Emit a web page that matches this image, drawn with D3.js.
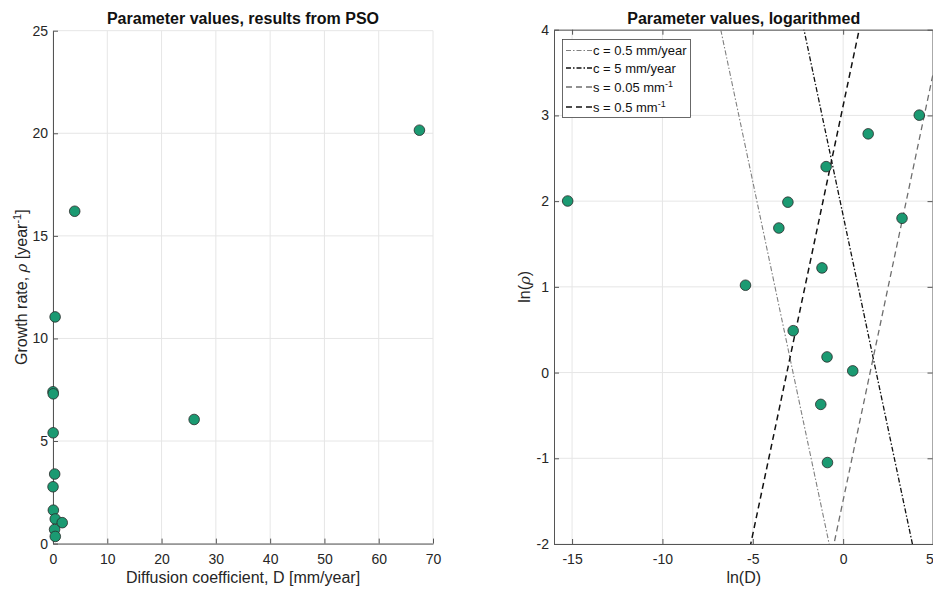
<!DOCTYPE html>
<html>
<head>
<meta charset="utf-8">
<script src="https://cdn.jsdelivr.net/npm/d3@7"></script>
<style>
  html, body { margin: 0; padding: 0; background: #fff; }
  svg { display: block; font-family: "Liberation Sans", Arial, Helvetica, sans-serif; }
  .tick text { fill: #262626; font-size: 14px; }
</style>
</head>
<body>
<svg id="chart" width="933" height="590"></svg>
<script>
// PSO parameter estimates per patient: diffusion coefficient D [mm/year], growth rate rho [1/year]
const diffusion = [2.4e-7, 0.0045, 0.0285, 0.047, 0.39, 0.31, 4.0, 26.0, 67.5, 0.063, 0.41, 1.70, 0.29, 0.42];
const growth    = [7.40,   2.77,   5.40,   7.30,  11.05, 3.39, 16.2, 6.05, 20.15, 1.63,  1.20, 1.02, 0.69, 0.35];

// Reference curves in the log plane
const speedValues = [0.5, 5];        // wave speed c [mm/year], c = 2*sqrt(D*rho)
const slopeValues = [0.05, 0.5];     // profile steepness s [1/mm]
const slopeOffset = 4.5;             // ln-offset of the s-lines used in the model units

const leftXTicks  = [0, 10, 20, 30, 40, 50, 60, 70];
const leftYTicks  = [0, 5, 10, 15, 20, 25];
const rightXTicks = [-15, -10, -5, 0, 5];
const rightYTicks = [-2, -1, 0, 1, 2, 3, 4];

const svg = d3.select("#chart");
const axisColor = "#555";
const gridColor = "#e6e6e6";
const markFill = "#1b9a72";
const markStroke = "#2a2a2a";
const plainFmt = d => String(d);

// ---------- Left panel: raw values ----------
const xL = d3.scaleLinear([0, 70], [53, 433]);
const yL = d3.scaleLinear([0, 25], [543.6, 30.7]);
const gL = svg.append("g");

gL.append("g").selectAll("line").data(leftXTicks).join("line")
  .attr("x1", d => xL(d)).attr("x2", d => xL(d))
  .attr("y1", yL(0)).attr("y2", yL(25))
  .attr("stroke", gridColor);
gL.append("g").selectAll("line").data(leftYTicks).join("line")
  .attr("x1", xL(0)).attr("x2", xL(70))
  .attr("y1", d => yL(d)).attr("y2", d => yL(d))
  .attr("stroke", gridColor);

const axLx = gL.append("g").attr("transform", `translate(0,${yL(0)})`)
  .call(d3.axisBottom(xL).tickValues(leftXTicks).tickFormat(plainFmt).tickSize(-5).tickSizeOuter(0).tickPadding(10));
const axLy = gL.append("g").attr("transform", `translate(${xL(0)},0)`)
  .call(d3.axisLeft(yL).tickValues(leftYTicks).tickFormat(plainFmt).tickSize(-5).tickSizeOuter(0).tickPadding(5));
[axLx, axLy].forEach(a => {
  a.select(".domain").attr("stroke", axisColor);
  a.selectAll(".tick line").attr("stroke", axisColor);
});

gL.append("g").selectAll("circle").data(diffusion.map((d, i) => [d, growth[i]])).join("circle")
  .attr("cx", d => xL(d[0])).attr("cy", d => yL(d[1])).attr("r", 5.3)
  .attr("fill", markFill).attr("stroke", markStroke).attr("stroke-width", 0.8);

gL.append("text").attr("x", (xL(0) + xL(70)) / 2).attr("y", 24)
  .attr("text-anchor", "middle").attr("font-size", 16).attr("font-weight", "bold").attr("fill", "#111")
  .text("Parameter values, results from PSO");
gL.append("text").attr("x", (xL(0) + xL(70)) / 2).attr("y", 583)
  .attr("text-anchor", "middle").attr("font-size", 16).attr("fill", "#262626")
  .text("Diffusion coefficient, D [mm/year]");
const ylabL = gL.append("text")
  .attr("transform", `translate(27,${(yL(0) + yL(25)) / 2}) rotate(-90)`)
  .attr("text-anchor", "middle").attr("font-size", 16).attr("fill", "#262626");
ylabL.append("tspan").text("Growth rate, ");
ylabL.append("tspan").attr("font-style", "italic").attr("font-family", "DejaVu Serif, serif").attr("font-size", 15).text("ρ");
ylabL.append("tspan").text(" [year");
ylabL.append("tspan").attr("dy", -6).attr("font-size", 11).text("-1");
ylabL.append("tspan").attr("dy", 6).text("]");

// ---------- Right panel: logarithms ----------
const xR = d3.scaleLinear([-16, 5], [554, 933.5]);
const yR = d3.scaleLinear([-2, 4], [544, 29.7]);
const gR = svg.append("g");

gR.append("defs").append("clipPath").attr("id", "clipR").append("rect")
  .attr("x", xR(-16)).attr("y", yR(4)).attr("width", xR(5) - xR(-16)).attr("height", yR(-2) - yR(4));

gR.append("g").selectAll("line").data(rightXTicks).join("line")
  .attr("x1", d => xR(d)).attr("x2", d => xR(d))
  .attr("y1", yR(-2)).attr("y2", yR(4)).attr("stroke", gridColor);
gR.append("g").selectAll("line").data(rightYTicks).join("line")
  .attr("x1", xR(-16)).attr("x2", xR(5))
  .attr("y1", d => yR(d)).attr("y2", d => yR(d)).attr("stroke", gridColor);

const axRx = gR.append("g").attr("transform", `translate(0,${yR(-2)})`)
  .call(d3.axisBottom(xR).tickValues(rightXTicks).tickFormat(plainFmt).tickSize(-5).tickSizeOuter(0).tickPadding(10));
// the last label sits at the window edge; keep it fully on the canvas
axRx.selectAll(".tick text").filter(d => d === 5).attr("dx", -4);
const axes = [
  axRx,
  gR.append("g").attr("transform", `translate(0,${yR(4)})`)
    .call(d3.axisTop(xR).tickValues(rightXTicks).tickSize(-5).tickSizeOuter(0).tickFormat("")),
  gR.append("g").attr("transform", `translate(${xR(-16)},0)`)
    .call(d3.axisLeft(yR).tickValues(rightYTicks).tickFormat(plainFmt).tickSize(-5).tickSizeOuter(0).tickPadding(5)),
  gR.append("g").attr("transform", `translate(${xR(5) - 1},0)`)
    .call(d3.axisRight(yR).tickValues(rightYTicks).tickSize(-5).tickSizeOuter(0).tickFormat(""))
];
axes.forEach(a => {
  a.select(".domain").attr("stroke", axisColor);
  a.selectAll(".tick line").attr("stroke", axisColor);
});

// Reference lines: ln(rho) as a function of ln(D)
const refLines = [
  { label: ["c = 0.5 mm/year"], f: x => 2 * Math.log(speedValues[0] / 2) - x, color: "#808080", dash: "5,2,1.5,2", w: 1.1 },
  { label: ["c = 5 mm/year"],   f: x => 2 * Math.log(speedValues[1] / 2) - x, color: "#111",    dash: "5,2,1.5,2", w: 1.3 },
  { label: ["s = 0.05 mm", "-1"], f: x => 2 * Math.log(slopeValues[0]) + slopeOffset + x, color: "#6e6e6e", dash: "6,4", w: 1.3 },
  { label: ["s = 0.5 mm", "-1"],  f: x => 2 * Math.log(slopeValues[1]) + slopeOffset + x, color: "#111",    dash: "6,4", w: 1.5 }
];
const lineGen = d3.line().x(d => xR(d[0])).y(d => yR(d[1]));
gR.append("g").attr("clip-path", "url(#clipR)").selectAll("path").data(refLines).join("path")
  .attr("d", r => lineGen([[-16, r.f(-16)], [5, r.f(5)]]))
  .attr("fill", "none").attr("stroke", r => r.color).attr("stroke-width", r => r.w)
  .attr("stroke-dasharray", r => r.dash);

gR.append("g").attr("clip-path", "url(#clipR)").selectAll("circle")
  .data(diffusion.map((d, i) => [Math.log(d), Math.log(growth[i])])).join("circle")
  .attr("cx", d => xR(d[0])).attr("cy", d => yR(d[1])).attr("r", 5.3)
  .attr("fill", markFill).attr("stroke", markStroke).attr("stroke-width", 0.8);

// Legend
const lg = gR.append("g");
lg.append("rect").attr("x", 562.5).attr("y", 39.5).attr("width", 128).attr("height", 78)
  .attr("fill", "#fff").attr("stroke", "#444").attr("stroke-width", 0.8);
const rowY = [50.5, 68, 87, 107];
refLines.forEach((r, i) => {
  const y = rowY[i];
  lg.append("line").attr("x1", 566).attr("x2", 592).attr("y1", y).attr("y2", y)
    .attr("stroke", r.color).attr("stroke-width", r.w).attr("stroke-dasharray", r.dash);
  const t = lg.append("text").attr("x", 593).attr("y", y + 4.5).attr("font-size", 13).attr("fill", "#111");
  t.append("tspan").text(r.label[0]);
  if (r.label[1]) t.append("tspan").attr("dy", -5).attr("font-size", 9).text(r.label[1]);
});

gR.append("text").attr("x", (xR(-16) + xR(5)) / 2).attr("y", 24)
  .attr("text-anchor", "middle").attr("font-size", 16).attr("font-weight", "bold").attr("fill", "#111")
  .text("Parameter values, logarithmed");
gR.append("text").attr("x", (xR(-16) + xR(5)) / 2).attr("y", 583)
  .attr("text-anchor", "middle").attr("font-size", 16).attr("fill", "#262626")
  .text("ln(D)");
const ylabR = gR.append("text")
  .attr("transform", `translate(530,${(yR(-2) + yR(4)) / 2}) rotate(-90)`)
  .attr("text-anchor", "middle").attr("font-size", 16).attr("fill", "#262626");
ylabR.append("tspan").text("ln(");
ylabR.append("tspan").attr("font-style", "italic").attr("font-family", "DejaVu Serif, serif").attr("font-size", 15).text("ρ");
ylabR.append("tspan").text(")");
</script>
</body>
</html>
